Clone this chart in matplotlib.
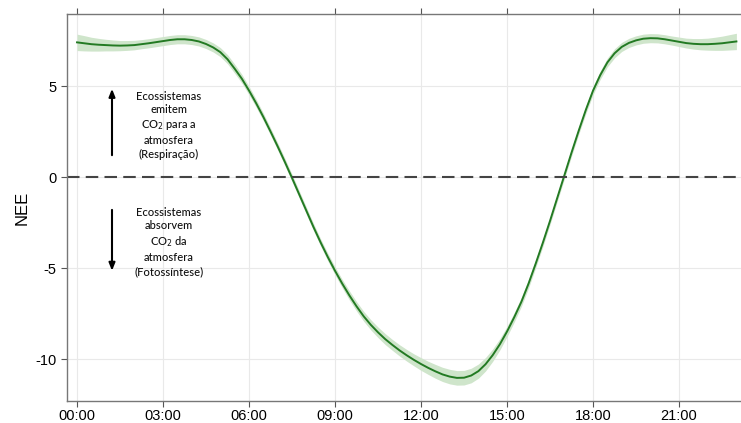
import numpy as np
import matplotlib.pyplot as plt

# hour of day (quarter-hour steps), mean NEE and half width of the band
hours = [i / 4 for i in range(93)]
nee = [7.40, 7.35, 7.30, 7.27, 7.25, 7.23, 7.22, 7.23, 7.25, 7.30, 7.35, 7.41,
       7.47, 7.53, 7.57, 7.57, 7.53, 7.45, 7.31, 7.12, 6.86, 6.47, 5.95, 5.40,
       4.75, 4.05, 3.30, 2.50, 1.68, 0.83, -0.05, -0.95, -1.85, -2.75, -3.60, -4.40,
       -5.15, -5.85, -6.50, -7.10, -7.65, -8.12, -8.53, -8.90, -9.22, -9.52, -9.79, -10.04,
       -10.27, -10.48, -10.67, -10.84, -10.96, -11.03, -11.02, -10.90, -10.66, -10.28, -9.78, -9.18,
       -8.48, -7.70, -6.85, -5.85, -4.75, -3.60, -2.40, -1.15, 0.10, 1.35, 2.55, 3.70,
       4.75, 5.60, 6.30, 6.80, 7.15, 7.37, 7.51, 7.60, 7.63, 7.62, 7.57, 7.50,
       7.43, 7.36, 7.32, 7.30, 7.30, 7.32, 7.35, 7.40, 7.45]
half_band = [0.45, 0.42, 0.38, 0.35, 0.32, 0.30, 0.28, 0.27, 0.26, 0.25, 0.25, 0.25,
             0.25, 0.25, 0.25, 0.25, 0.25, 0.25, 0.25, 0.25, 0.25, 0.25, 0.25, 0.24,
             0.23, 0.22, 0.21, 0.20, 0.20, 0.20, 0.20, 0.20, 0.20, 0.20, 0.20, 0.21,
             0.22, 0.23, 0.25, 0.26, 0.27, 0.28, 0.29, 0.30, 0.30, 0.31, 0.32, 0.33,
             0.35, 0.36, 0.38, 0.39, 0.40, 0.40, 0.40, 0.40, 0.39, 0.37, 0.34, 0.31,
             0.28, 0.26, 0.25, 0.24, 0.22, 0.21, 0.20, 0.20, 0.20, 0.20, 0.20, 0.21,
             0.22, 0.23, 0.24, 0.25, 0.25, 0.25, 0.25, 0.25, 0.25, 0.25, 0.25, 0.25,
             0.26, 0.27, 0.29, 0.31, 0.33, 0.36, 0.39, 0.42, 0.45]
xticks = [0, 3, 6, 9, 12, 15, 18, 21]
xlabels = ["00:00", "03:00", "06:00", "09:00", "12:00", "15:00", "18:00", "21:00"]
yticks = [-10, -5, 0, 5]

h = np.array(hours)
v = np.array(nee)
b = np.array(half_band)

plt.rcParams['font.family'] = ['Liberation Sans', 'DejaVu Sans']
plt.rcParams['axes.unicode_minus'] = False
fig = plt.figure(figsize=(7.41, 4.23), dpi=100)
ax = fig.add_axes([0.0904, 0.052, 0.9096, 0.915])

ax.fill_between(h, v - b, v + b, color='#cfe5cb', lw=0)
ax.plot(h, v, color='#237a23', lw=1.4)
ax.axhline(0, color='#444444', lw=1.5, ls=(0, (6, 3)))

ax.set_xlim(-0.35, 23.16)
ax.set_ylim(-12.3, 8.96)
ax.set_xticks(xticks)
ax.set_xticklabels(xlabels)
ax.set_yticks(yticks)
ax.grid(color='#e9e9e9', lw=0.8)
ax.set_axisbelow(True)
ax.tick_params(axis='x', top=True, labelsize=10.5, color='#555555', length=4, pad=2)
ax.tick_params(axis='y', labelsize=10.5, color='#555555', length=4)
ax.spines['right'].set_visible(False)
for s in ['top', 'bottom', 'left']:
    ax.spines[s].set_color('#777777')
    ax.spines[s].set_linewidth(1.0)
ax.set_ylabel("NEE", fontsize=12)
ax.yaxis.set_label_coords(-0.056, 0.5)

# annotations
ax.annotate("", xy=(1.22, 5.0), xytext=(1.22, 1.05),
            arrowprops=dict(arrowstyle='-|>,head_width=0.18,head_length=0.45', color='black', lw=1.5))
ax.annotate("", xy=(1.22, -5.3), xytext=(1.22, -1.65),
            arrowprops=dict(arrowstyle='-|>,head_width=0.18,head_length=0.45', color='black', lw=1.5))
ax.text(3.2, 2.85, "Ecossistemas\nemitem\nCO$_2$ para a\natmosfera\n(Respiração)",
        ha='center', va='center', fontsize=8, family=['Lato', 'DejaVu Sans'],
        weight='medium', linespacing=1.3, color='#111111')
ax.text(3.2, -3.55, "Ecossistemas\nabsorvem\nCO$_2$ da\natmosfera\n(Fotossíntese)",
        ha='center', va='center', fontsize=8, family=['Lato', 'DejaVu Sans'],
        weight='medium', linespacing=1.3, color='#111111')

fig.savefig("out.png", dpi=100)
